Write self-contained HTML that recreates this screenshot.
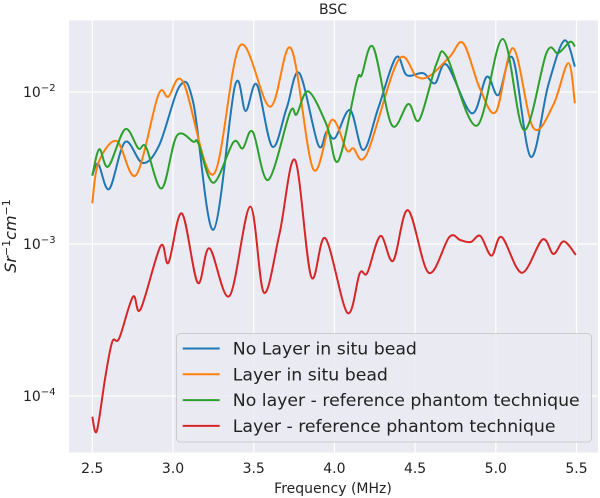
<!DOCTYPE html>
<html><head><meta charset="utf-8"><style>
html,body{margin:0;padding:0;background:#fff;}
svg{display:block;font-family:"DejaVu Sans","Liberation Sans",sans-serif;}
</style></head><body>
<svg id="chart" width="600" height="498" viewBox="0 0 600 498">
<rect x="69" y="20.5" width="529" height="432" fill="#eaeaf2"/>
<g id="grid"></g>
<g id="series"></g>
<g id="axes"></g>
<text x="333" y="14" text-anchor="middle" font-size="14" fill="#222">BSC</text>
<text x="333" y="493" text-anchor="middle" font-size="14" fill="#222">Frequency (MHz)</text>
<text transform="translate(16,236) rotate(-90)" text-anchor="middle" font-size="16" font-style="italic" fill="#222">Sr<tspan dy="-6" font-size="11" font-style="normal">−1</tspan><tspan dy="6">cm</tspan><tspan dy="-6" font-size="11" font-style="normal">−1</tspan></text>
<g id="legend">
<rect x="176.5" y="333.5" width="415" height="108.5" rx="4" fill="#eaeaf2" fill-opacity="0.85" stroke="#cccccc" stroke-width="1"/>
</g>
</svg>
<script>
var blueX=[2.5,2.537,2.605,2.703,2.812,2.915,3.043,3.126,3.25,3.384,3.45,3.519,3.615,3.704,3.783,3.9,3.952,4.004,4.097,4.179,4.272,4.382,4.448,4.551,4.623,4.696,4.851,4.944,5.016,5.105,5.216,5.325,5.424,5.49];
var blueY=[2.84e-3,3.36e-3,2.3e-3,4.69e-3,3.41e-3,4.48e-3,0.011,8.47e-3,1.24e-3,0.011,7.5e-3,0.0112,4.37e-3,7.82e-3,0.0133,4.48e-3,5.48e-3,4.98e-3,7.62e-3,4.15e-3,7.85e-3,0.0169,0.0129,0.0133,0.0114,0.0151,7.24e-3,0.0126,9.55e-3,0.0167,3.75e-3,0.0111,0.0218,0.0147];
var orangeX=[2.5,2.537,2.651,2.771,2.909,2.971,3.064,3.25,3.415,3.601,3.731,3.869,3.983,4.076,4.117,4.2,4.396,4.51,4.592,4.716,4.799,4.902,5.001,5.108,5.232,5.356,5.449,5.49];
var orangeY=[1.85e-3,3.4e-3,4.76e-3,2.84e-3,9.55e-3,9.31e-3,0.0116,2.87e-3,0.0202,8.0e-3,0.0194,3.11e-3,6.55e-3,4.15e-3,4.26e-3,3.89e-3,0.0162,0.0126,0.0128,0.0171,0.0209,0.0105,7.42e-3,0.0194,5.82e-3,8.21e-3,0.0155,8.43e-3];
var greenX=[2.5,2.543,2.599,2.703,2.785,2.833,2.93,3.023,3.126,3.157,3.25,3.374,3.432,3.494,3.59,3.725,3.766,3.838,3.952,4.024,4.138,4.169,4.241,4.355,4.458,4.526,4.634,4.696,4.882,5.043,5.175,5.315,5.387,5.46,5.49];
var greenY=[2.81e-3,4.2e-3,3.23e-3,5.69e-3,4.26e-3,4.33e-3,2.32e-3,5.14e-3,4.71e-3,4.6e-3,2.53e-3,4.67e-3,4.26e-3,5.48e-3,2.64e-3,7.35e-3,7.13e-3,0.0101,6.07e-3,3.52e-3,0.0117,0.0129,0.0197,6.07e-3,8.34e-3,6.55e-3,0.0155,0.0171,6.0e-3,0.0223,5.62e-3,0.0182,0.018,0.0214,0.0199];
var redX=[2.5,2.528,2.581,2.624,2.667,2.752,2.799,2.923,2.972,3.055,3.153,3.226,3.35,3.478,3.563,3.66,3.756,3.856,3.944,4.08,4.157,4.204,4.285,4.364,4.456,4.584,4.712,4.781,4.845,4.904,4.973,5.037,5.161,5.289,5.357,5.421,5.496];
var redY=[7.31e-5,5.89e-5,1.34e-4,2.28e-4,2.4e-4,4.5e-4,3.72e-4,9.7e-4,7.53e-4,1.59e-3,5.56e-4,9.37e-4,4.55e-4,1.76e-3,4.79e-4,1.17e-3,3.57e-3,6.1e-4,1.09e-3,3.53e-4,6.41e-4,6.47e-4,1.13e-3,7.76e-4,1.67e-3,6.47e-4,1.11e-3,1.06e-3,1.03e-3,1.13e-3,8.38e-4,1.11e-3,6.47e-4,1.07e-3,8.6e-4,1.04e-3,8.47e-4];
var xTicks=[2.5,3.0,3.5,4.0,4.5,5.0,5.5];
var xTickLabels=["2.5","3.0","3.5","4.0","4.5","5.0","5.5"];
var yTicks=[1e-2,1e-3,1e-4];
var yTickExps=["−2","−3","−4"];
var seriesNames=["No Layer in situ bead","Layer in situ bead","No layer - reference phantom technique","Layer - reference phantom technique"];

var NS="http://www.w3.org/2000/svg";
function sx(v){return 92.3+(v-2.5)*161.4;}
function sy(v){return 92-(Math.log10(v)+2)*152;}
function mk(t,a,p){var e=document.createElementNS(NS,t);for(var k in a)e.setAttribute(k,a[k]);p.appendChild(e);return e;}
var grid=document.getElementById('grid'),axes=document.getElementById('axes'),ser=document.getElementById('series'),leg=document.getElementById('legend');
xTicks.forEach(function(t,i){
  var l=mk('line',{x1:sx(t),x2:sx(t),y1:20.5,y2:452.5,stroke:'#fff','stroke-width':1.2},grid);
  
  
  var tx=mk('text',{x:sx(t),y:473,'text-anchor':'middle','font-size':14,fill:'#222'},axes);
  tx.textContent=xTickLabels[i];
  
  
});
yTicks.forEach(function(t,i){
  var l=mk('line',{x1:69,x2:598,y1:sy(t),y2:sy(t),stroke:'#fff','stroke-width':1.2},grid);
  
  
  var tx=mk('text',{x:23,y:sy(t)+5,'font-size':14,fill:'#222'},axes);
  tx.innerHTML='10<tspan dy="-6" font-size="10">'+yTickExps[i]+'</tspan>';
  
  
});
function pathFor(xs,ys){
  var p=xs.map(function(x,i){return [sx(x),sy(ys[i])];});
  var d='M'+p[0][0]+','+p[0][1];
  for(var i=0;i<p.length-1;i++){
    var p0=p[i-1]||p[i],p1=p[i],p2=p[i+1],p3=p[i+2]||p[i+1];
    var c1x=p1[0]+(p2[0]-p0[0])/6,c1y=p1[1]+(p2[1]-p0[1])/6;
    var c2x=p2[0]-(p3[0]-p1[0])/6,c2y=p2[1]-(p3[1]-p1[1])/6;
    d+=' C'+c1x+','+c1y+' '+c2x+','+c2y+' '+p2[0]+','+p2[1];
  }
  return d;
}
var colors=['#1f77b4','#ff7f0e','#2ca02c','#d62728'];
var sets=[[blueX,blueY],[orangeX,orangeY],[greenX,greenY],[redX,redY]];
var sNames=['series-no-layer-in-situ','series-layer-in-situ','series-no-layer-reference','series-layer-reference'];
sets.forEach(function(s,i){
  var pth=mk('path',{d:pathFor(s[0],s[1]),fill:'none',stroke:colors[i],'stroke-width':2,'stroke-linejoin':'round'},ser);
  
  
});
seriesNames.forEach(function(n,i){
  var y=348.5+i*25.8;
  var l=mk('line',{x1:182.7,x2:219.7,y1:y,y2:y,stroke:colors[i],'stroke-width':2},leg);
  
  
  var t=mk('text',{x:232.8,y:y+6,'font-size':17.3,fill:'#222'},leg);
  t.textContent=n;
  
  
});
</script>
</body></html>
